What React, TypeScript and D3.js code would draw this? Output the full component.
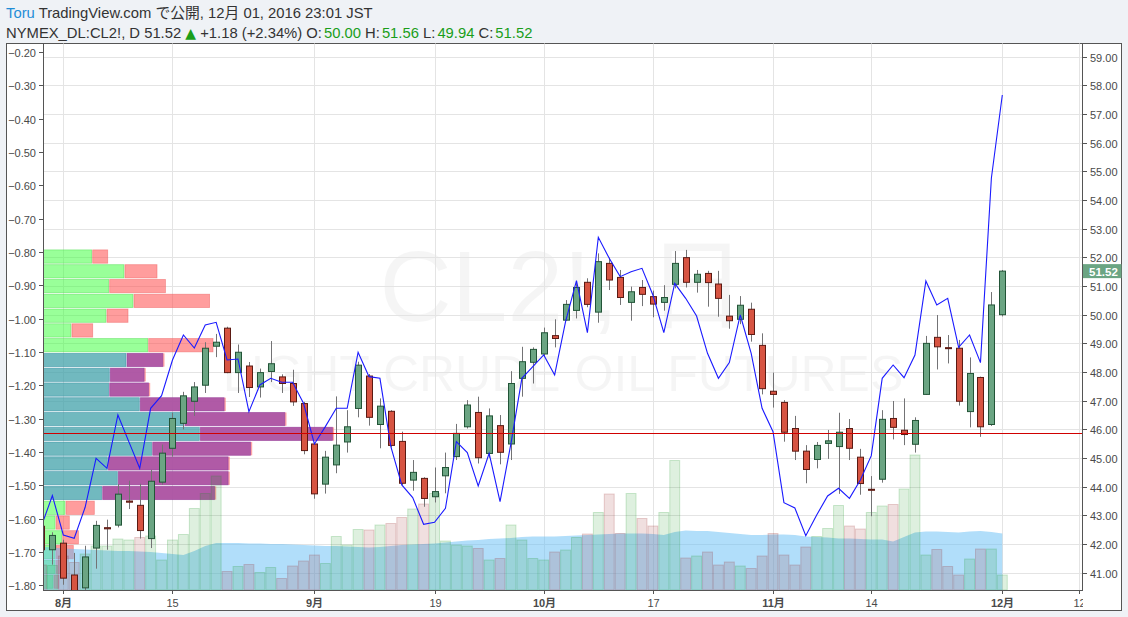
import React from "react";
import * as d3 from "d3";

// ---------- header texts ----------
const headerAuthor = "Toru";
const headerPublished = " TradingView.com で公開, 12月 01, 2016 23:01 JST";
const symbolLabel = "NYMEX_DL:CL2!, D 51.52 ";
const changeLabel = " +1.18 (+2.34%) ";
const ohlcLabels = ["O:", " H:", " L:", " C:"];
const ohlcValues = ["50.00", "51.56", "49.94", "51.52"];
const watermarkTitle = "CL2!, 日";
const watermarkSubtitle = "LIGHT CRUDE OIL FUTURES";

// ---------- categories (trading days, 2016) ----------
const dates = [
  "07-28", "07-29",
  "08-01", "08-02", "08-03", "08-04", "08-05", "08-08", "08-09", "08-10", "08-11", "08-12",
  "08-15", "08-16", "08-17", "08-18", "08-19", "08-22", "08-23", "08-24", "08-25", "08-26",
  "08-29", "08-30", "08-31",
  "09-01", "09-02", "09-06", "09-07", "09-08", "09-09", "09-12", "09-13", "09-14", "09-15",
  "09-16", "09-19", "09-20", "09-21", "09-22", "09-23", "09-26", "09-27", "09-28", "09-29", "09-30",
  "10-03", "10-04", "10-05", "10-06", "10-07", "10-10", "10-11", "10-12", "10-13", "10-14",
  "10-17", "10-18", "10-19", "10-20", "10-21", "10-24", "10-25", "10-26", "10-27", "10-28", "10-31",
  "11-01", "11-02", "11-03", "11-04", "11-07", "11-08", "11-09", "11-10", "11-11", "11-14",
  "11-15", "11-16", "11-17", "11-18", "11-21", "11-22", "11-23", "11-25", "11-28", "11-29", "11-30",
  "12-01",
];
const futureDates = ["12-02", "12-05", "12-06", "12-07", "12-08", "12-09", "12-12"];

const timeTickDates = ["08-01", "08-15", "09-01", "09-19", "10-03", "10-17", "11-01", "11-14", "12-01", "12-12"];
const timeTickLabels = ["8月", "15", "9月", "19", "10月", "17", "11月", "14", "12月", "12"];
const timeTickMonth = [true, false, true, false, true, false, true, false, true, false];

// ---------- OHLC ----------
const open = [
  42.62, 41.80, 42.03, 40.92, 40.47, 41.86, 42.57, 42.66, 43.50, 43.35, 42.19, 44.16,
  45.34, 46.21, 46.98, 47.54, 48.90, 49.53, 47.98, 48.21, 47.48, 48.02, 47.83, 47.60, 46.90,
  45.49, 44.09, 44.76, 45.56, 46.73, 47.86, 46.17, 46.63, 45.58, 44.23, 44.29, 43.65, 44.38,
  45.05, 46.09, 46.59, 45.16, 46.13, 45.49, 47.78, 48.34,
  48.63, 49.27, 49.81, 50.15, 51.13, 50.09, 51.79, 51.30, 50.43, 50.95, 50.63, 50.43, 51.06,
  51.99, 51.13, 51.44, 51.07, 49.95, 49.84, 50.19, 48.93,
  47.33, 46.94, 46.03, 45.24, 44.95, 45.51, 45.40, 46.03, 45.03, 43.91, 44.26, 46.38, 45.97,
  45.48, 47.22, 49.21, 48.85, 48.83, 46.62, 47.81, 46.17,
  50.00,
];
const high = [
  42.75, 42.41, 42.15, 41.69, 41.94, 42.81, 42.85, 44.09, 44.21, 44.10, 44.59, 45.47,
  46.58, 47.31, 47.65, 49.04, 49.33, 49.58, 48.96, 48.35, 48.12, 49.08, 47.92, 48.08, 46.96,
  45.51, 45.25, 47.15, 46.67, 48.36, 47.93, 47.08, 46.67, 45.92, 44.93, 44.33, 44.67, 45.19,
  46.19, 47.02, 47.14, 46.73, 46.50, 48.03, 48.88, 48.86,
  49.55, 49.84, 50.51, 51.17, 51.27, 52.14, 51.99, 51.56, 50.98, 51.21, 50.84, 51.03, 52.22,
  52.26, 51.56, 51.53, 51.53, 50.69, 50.65, 50.42, 49.35,
  47.98, 47.02, 46.47, 45.45, 45.56, 45.98, 46.58, 46.36, 45.32, 44.37, 46.67, 46.99, 47.08,
  46.42, 49.26, 49.99, 49.29, 49.12, 48.51, 47.84, 50.79,
  51.56,
];
const low = [
  41.60, 41.28, 40.58, 39.85, 40.10, 41.14, 41.80, 42.58, 43.22, 42.19, 41.86, 44.07,
  45.05, 46.00, 46.47, 47.27, 48.52, 47.96, 47.27, 47.13, 47.11, 47.65, 47.27, 46.82, 45.13,
  43.58, 43.76, 44.47, 45.19, 46.42, 46.13, 45.34, 45.37, 44.06, 43.86, 43.30, 43.45, 43.77,
  44.93, 46.03, 44.81, 45.01, 44.78, 44.93, 47.14, 47.60,
  48.53, 48.86, 49.79, 49.87, 50.26, 49.72, 50.86, 50.34, 49.79, 50.30, 49.91, 50.14, 50.92,
  50.95, 50.77, 50.28, 49.93, 49.51, 49.67, 49.06, 47.22,
  46.76, 45.57, 44.93, 44.12, 44.64, 44.97, 43.75, 44.93, 43.72, 42.97, 44.14, 45.65, 45.45,
  45.19, 47.20, 48.09, 48.30, 46.83, 46.07, 45.74, 46.12,
  49.94,
];
const close = [
  41.80, 42.30, 40.81, 40.05, 41.55, 42.65, 42.53, 43.74, 43.46, 42.47, 44.19, 45.17,
  46.38, 47.17, 47.48, 48.83, 49.04, 47.98, 48.69, 47.46, 47.98, 48.29, 47.60, 46.96, 45.26,
  43.75, 45.03, 45.45, 46.09, 48.24, 46.42, 46.81, 45.44, 44.12, 44.50, 43.59, 43.83, 44.67,
  45.86, 46.85, 45.01, 46.47, 45.20, 47.60, 48.36, 48.79,
  49.37, 49.17, 50.36, 50.95, 50.36, 51.85, 51.21, 50.60, 50.80, 50.71, 50.37, 50.60, 51.79,
  51.13, 51.41, 51.12, 50.57, 49.79, 50.33, 49.31, 47.42,
  47.22, 45.90, 45.24, 44.60, 45.44, 45.60, 45.90, 45.34, 44.11, 43.88, 46.35, 46.07, 45.82,
  46.31, 49.00, 48.88, 48.82, 46.98, 47.95, 46.09, 50.34,
  51.52,
];

// ---------- blue line (left scale) ----------
const spread = [
  -1.622, -1.531, -1.649, -1.659, -1.566, -1.419, -1.449, -1.289, -1.369, -1.449, -1.269, -1.231,
  -1.124, -1.049, -1.088, -1.019, -1.011, -1.124, -1.121, -1.279, -1.199, -1.179, -1.191, -1.191, -1.254,
  -1.376, -1.324, -1.269, -1.269, -1.101, -1.174, -1.179, -1.384, -1.499, -1.537, -1.617, -1.611, -1.569,
  -1.369, -1.402, -1.502, -1.404, -1.549, -1.374, -1.179, -1.144,
  -1.109, -1.169, -1.009, -0.886, -1.042, -0.756, -0.819, -0.874, -0.859, -0.849, -0.929, -1.042, -0.894,
  -0.939, -0.992, -1.104, -1.179, -1.132, -0.989, -1.104, -1.269,
  -1.339, -1.552, -1.568, -1.651, -1.589, -1.532, -1.509, -1.539, -1.484, -1.411, -1.179, -1.139, -1.177,
  -1.109, -0.887, -0.959, -0.939, -1.086, -1.049, -1.132, -0.578,
  -0.329,
];

// ---------- volume (thousands) ----------
const volume = [
  50, 49, 68, 55, 72, 88, 88, 102, 100, 105, 108, 60,
  100, 111, 163, 193, 228, 37, 47, 51, 35, 45, 23, 48, 58,
  70, 53, 107, 90, 121, 120, 130, 133, 145, 162, 172, 193, 98,
  90, 88, 83, 60, 63, 130, 100, 63,
  60, 76, 80, 105, 112, 155, 192, 113, 193, 143, 128, 155, 259,
  64, 68, 76, 50, 56, 48, 43, 68,
  113, 70, 50, 86, 107, 123, 169, 128, 122, 155, 168, 171, 202,
  270, 70, 81, 47, 30, 62, 82, 82,
  30,
];
const volumeUp = [
  0, 1, 0, 0, 1, 1, 1, 1, 1, 0, 1, 1,
  1, 1, 1, 1, 1, 0, 1, 0, 1, 1, 0, 0, 0,
  0, 1, 1, 1, 1, 0, 1, 0, 0, 1, 0, 1, 1,
  1, 1, 0, 1, 0, 1, 1, 1,
  1, 0, 1, 1, 0, 1, 0, 0, 1, 0, 0, 1, 1,
  0, 1, 0, 0, 0, 1, 0, 0,
  0, 0, 0, 0, 1, 1, 1, 0, 0, 1, 1, 0, 1,
  1, 1, 0, 0, 0, 1, 0, 1,
  1,
];
const volumeMA = [
  87, 85, 83, 82, 81, 80, 79, 78, 78, 77, 76, 74,
  72, 70, 78, 88, 94, 94, 94, 93, 93, 92, 92, 91, 90,
  89, 88, 88, 87, 86, 85, 86, 88, 90, 91, 92, 93, 95,
  97, 99, 100, 102, 103, 104, 106, 107,
  107, 107, 108, 109, 110, 111, 112, 113, 113, 113, 112, 110, 116,
  119, 118, 118, 116, 114, 112, 110, 110,
  111, 111, 110, 107, 106, 105, 103, 103, 102, 101, 101, 97, 106,
  115, 117, 117, 116, 115, 117, 118, 116,
  113,
];

// ---------- volume profile (rows from top price, fixed row size) ----------
const profileTopPrice = 52.26;
const profileRowSize = 0.5155;
const profileUp = [48.7, 81, 65.7, 90, 63, 28, 104.7, 83, 66.3, 65.7, 96.3, 141, 156.3, 108.7, 64.3, 74.3, 58.7, 22, 12, 18.7, 12, 12, 10];
const profileDown = [15, 32, 55.7, 75.6, 21, 20.7, 64.3, 36, 34, 39, 84, 100, 132.3, 98, 120, 110, 112, 28.3, 13.3, 15.7, 17.3, 8, 5];
const valueAreaRows = [7, 16];

// ---------- axes ----------
const priceTicks = [41, 42, 43, 44, 45, 46, 47, 48, 49, 50, 51, 52, 53, 54, 55, 56, 57, 58, 59];
const spreadTicks = [-1.8, -1.7, -1.6, -1.5, -1.4, -1.3, -1.2, -1.1, -1.0, -0.9, -0.8, -0.7, -0.6, -0.5, -0.4, -0.3, -0.2];
const horizontalLevel = 45.88;

export default function App() {
  const W = 1128;
  const H = 617;
  const L = 43;
  const R = 1083;
  const T = 43.5;
  const B = 590;

  const allDates = [...dates, ...futureDates];
  const x = d3.scaleBand<string>().domain(allDates).range([36.0, 1084.2]);
  const step = x.step();
  const cx = (d: string) => (x(d) ?? 0) + x.bandwidth() / 2;
  const yP = d3.scaleLinear().domain([41, 59]).range([572.7, 56.7]);
  const yS = d3.scaleLinear().domain([-1.8, -0.2]).range([585.3, 52]);
  const yV = d3.scaleLinear().domain([0, 400]).range([B, B - 200]);
  const xProf = d3.scaleLinear().domain([0, 300]).range([L, L + 300]);
  const f2 = d3.format(".2f");

  const font = "'Liberation Sans', Arial, 'Noto Sans CJK JP', sans-serif";
  const up = "#6ba583";
  const down = "#d75442";

  const lineGen = d3
    .line<number>()
    .x((_, i) => cx(dates[i]))
    .y((v) => yS(v));
  const areaGen = d3
    .area<number>()
    .x((_, i) => cx(dates[i]))
    .y0(B)
    .y1((v) => yV(v));

  return (
    <div style={{ position: "absolute", left: 0, top: 0, width: W, height: H, background: "#eff2f6" }}>
      <svg width={W} height={H} style={{ display: "block" }} fontFamily={font}>
        <defs>
          <clipPath id="plotClip">
            <rect x={L} y={T} width={R - L} height={B - T} />
          </clipPath>
          <clipPath id="timeClip">
            <rect x={L} y={B} width={R - L} height={20} />
          </clipPath>
        </defs>

        {/* header */}
        <text x={6} y={18} fontSize={14.8} fill="#333">
          <tspan fill="#1f8dd6">{headerAuthor}</tspan>
          <tspan>{headerPublished}</tspan>
        </text>
        <text x={6} y={37.5} fontSize={14.8} fill="#333">
          <tspan>{symbolLabel}</tspan>
          <tspan fill="#1a9e1a" fontFamily="'DejaVu Sans', sans-serif" fontSize={14}>▲</tspan>
          <tspan>{changeLabel}</tspan>
          {ohlcLabels.map((lab, i) => (
            <React.Fragment key={lab}>
              <tspan fill="#333">{lab}</tspan>
              <tspan fill="#1a9e1a" dx={2}>{ohlcValues[i]}</tspan>
            </React.Fragment>
          ))}
        </text>

        {/* frame */}
        <rect x={6.5} y={T} width={1115} height={567} fill="#fff" stroke="#555" strokeWidth={1} />

        {/* watermark */}
        <g fill="#000" fillOpacity={0.04} textAnchor="middle" clipPath="url(#plotClip)">
          <text x={(L + R) / 2} y={321} fontSize={100}>{watermarkTitle}</text>
          <text x={(L + R) / 2} y={391} fontSize={50}>{watermarkSubtitle}</text>
        </g>

        {/* grid */}
        <g stroke="#e4e4e4" strokeWidth={1}>
          {priceTicks.map((p) => (
            <line key={p} x1={L} x2={R} y1={Math.round(yP(p)) + 0.5} y2={Math.round(yP(p)) + 0.5} />
          ))}
          {timeTickDates.map((d) => (
            <line key={d} x1={Math.round(cx(d)) + 0.5} x2={Math.round(cx(d)) + 0.5} y1={T} y2={B} />
          ))}
        </g>

        <g clipPath="url(#plotClip)">
          {/* volume profile */}
          {profileUp.map((u, k) => {
            const y0 = yP(profileTopPrice - k * profileRowSize);
            const y1 = yP(profileTopPrice - (k + 1) * profileRowSize);
            const h = y1 - y0 - 1.5;
            const inVA = k >= valueAreaRows[0] && k <= valueAreaRows[1];
            const xu = xProf(u);
            const xd = xProf(u + profileDown[k]) + 1;
            return (
              <g key={k}>
                {inVA ? (
                  <>
                    <rect x={xu + 1} y={y0} width={xd - xu + 0.5} height={h} fill="#ff8080" fillOpacity={0.7} />
                    <rect x={L} y={y0} width={xu - L} height={h} fill="#3a9ea6" fillOpacity={0.72} stroke="#2f8ca0" strokeOpacity={0.6} strokeWidth={0.8} />
                    <rect x={xu + 1} y={y0} width={xd - xu - 1.2} height={h} fill="#9a45a6" fillOpacity={0.78} stroke="#8a3aa0" strokeOpacity={0.6} strokeWidth={0.8} />
                  </>
                ) : (
                  <>
                    <rect x={L} y={y0} width={xu - L} height={h} fill="#33ff33" fillOpacity={0.5} stroke="#55dd55" strokeOpacity={0.6} strokeWidth={0.8} />
                    <rect x={xu + 1} y={y0} width={xd - xu - 1} height={h} fill="#ff4d4d" fillOpacity={0.55} stroke="#ee6666" strokeOpacity={0.6} strokeWidth={0.8} />
                  </>
                )}
              </g>
            );
          })}

          {/* volume MA area */}
          <path d={areaGen(volumeMA) ?? ""} fill="rgb(100,190,245)" fillOpacity={0.5} />

          {/* volume bars */}
          {volume.map((v, i) => {
            const c = cx(dates[i]);
            const isUp = volumeUp[i] === 1;
            return (
              <rect
                key={i}
                x={c - step / 2 + 0.5}
                y={yV(v)}
                width={step - 1}
                height={B - yV(v)}
                fill={isUp ? "rgb(20,150,30)" : "rgb(150,30,30)"}
                fillOpacity={0.14}
                stroke={isUp ? "rgb(20,150,30)" : "rgb(150,30,30)"}
                strokeOpacity={0.2}
                strokeWidth={1}
              />
            );
          })}

          {/* candles */}
          {dates.map((d, i) => {
            const c = Math.round(cx(d));
            const o = open[i];
            const cl = close[i];
            const isUp = cl >= o;
            const yTop = yP(Math.max(o, cl));
            const yBot = yP(Math.min(o, cl));
            return (
              <g key={d}>
                <line x1={c + 0.5} x2={c + 0.5} y1={yP(high[i])} y2={yP(low[i])} stroke="#737375" strokeWidth={1} />
                <rect
                  x={c - 2.5}
                  y={yTop}
                  width={6}
                  height={Math.max(1, yBot - yTop)}
                  fill={isUp ? up : down}
                  stroke={isUp ? "#225437" : "#5b1a13"}
                  strokeWidth={1}
                />
              </g>
            );
          })}

          {/* blue line */}
          <path d={lineGen(spread) ?? ""} fill="none" stroke="#1a1aff" strokeWidth={1.1} />

          {/* horizontal level */}
          <line x1={L} x2={R} y1={Math.round(yP(horizontalLevel)) + 0.5} y2={Math.round(yP(horizontalLevel)) + 0.5} stroke="#d00000" strokeWidth={1} />
        </g>

        {/* axes lines */}
        <g stroke="#555" strokeWidth={1}>
          <line x1={L + 0.5} x2={L + 0.5} y1={T} y2={B + 1} />
          <line x1={R - 0.5} x2={R - 0.5} y1={T} y2={B + 1} />
          <line x1={L} x2={R} y1={B + 0.5} y2={B + 0.5} />
        </g>

        {/* left axis */}
        <g fontSize={11} fill="#4a4a4a">
          {spreadTicks.map((v) => {
            const yy = Math.round(yS(v)) + 0.5;
            return (
              <g key={v}>
                <line x1={39} x2={L} y1={yy} y2={yy} stroke="#555" />
                <text x={36} y={yy + 4} textAnchor="end">{f2(v)}</text>
              </g>
            );
          })}
        </g>

        {/* right axis */}
        <g fontSize={11} fill="#4a4a4a">
          {priceTicks.map((p) => {
            const yy = Math.round(yP(p)) + 0.5;
            return (
              <g key={p}>
                <line x1={R} x2={R + 4} y1={yy} y2={yy} stroke="#555" />
                <text x={R + 7} y={yy + 4}>{f2(p)}</text>
              </g>
            );
          })}
          <rect x={R} y={yP(close[close.length - 1]) - 7} width={38.5} height={14} fill={up} />
          <text x={R + 6} y={yP(close[close.length - 1]) + 4.5} fill="#fff" fontWeight="bold" fontSize={11.5}>
            {f2(close[close.length - 1])}
          </text>
        </g>

        {/* time axis */}
        <g clipPath="url(#timeClip)" fontSize={11} fill="#4a4a4a" textAnchor="middle">
          {timeTickDates.map((d, i) => {
            const xx = Math.round(cx(d)) + 0.5;
            return (
              <g key={d}>
                <line x1={xx} x2={xx} y1={B} y2={B + 4} stroke="#555" />
                <text x={xx} y={B + 17} fontWeight={timeTickMonth[i] ? "bold" : "normal"}>
                  {timeTickLabels[i]}
                </text>
              </g>
            );
          })}
        </g>
      </svg>
    </div>
  );
}
